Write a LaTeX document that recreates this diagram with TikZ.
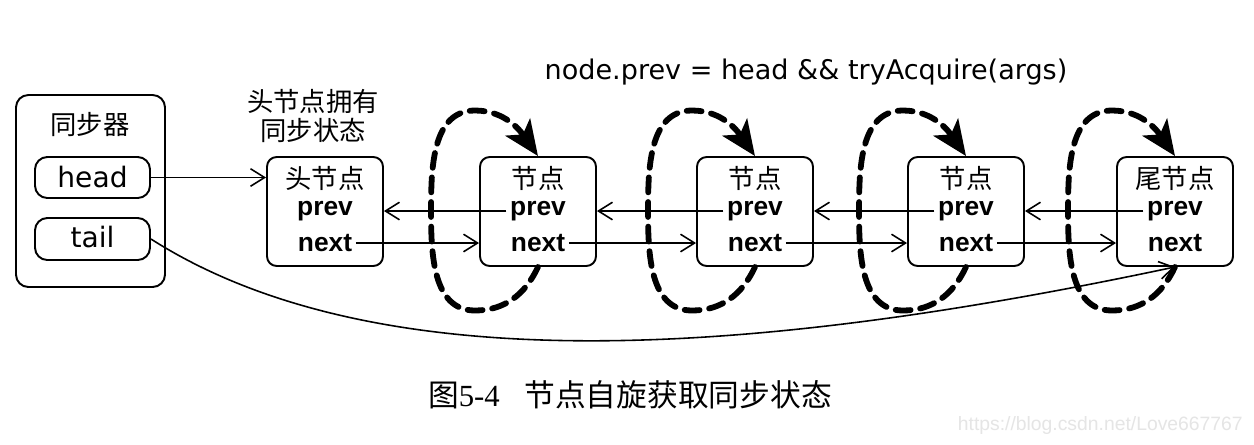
\documentclass[tikz,border=0pt]{standalone}
\usepackage{fontspec}
\setmainfont{Liberation Serif}
\newfontfamily\cjk{Noto Sans CJK SC}
\newfontfamily\dv{DejaVu Sans}
\newfontfamily\ls{Liberation Sans}
\usetikzlibrary{arrows.meta,calc}
\tikzset{
  box/.style={draw, line width=1.1pt, inner sep=0pt},
  nodebox/.style={box, rounded corners=5.5pt, minimum width=2.32cm, minimum height=2.18cm},
  cn/.style={font=\cjk\fontsize{15}{16}\selectfont, inner sep=0pt},
  lat/.style={font=\dv\fontsize{16}{18}\selectfont, inner sep=0pt},
  fld/.style={font=\ls\bfseries\fontsize{15}{16}\selectfont, inner sep=2pt},
  ptr/.style={line width=0.9pt, -{Straight Barb[length=8pt,width=10pt]}},
  spin/.style={line width=3.3pt, dash pattern=on 8.5pt off 5.5pt, line cap=round, -{Stealth[length=20pt,width=17pt,inset=5pt]}},
}
\begin{document}
\begin{tikzpicture}[x=0.02cm, y=-0.02cm]
\fill[white] (0,0) rectangle (1254,444);
\useasboundingbox (0,0) rectangle (1254,444);

% synchronizer
\node[box, rounded corners=7pt, minimum width=2.98cm, minimum height=3.84cm] (sync) at (90.5,191) {};
\node[cn] (syncl) at (90,125) {同步器};
\node[box, rounded corners=7pt, minimum width=2.3cm, minimum height=0.82cm] (headbox) at (92.5,177.5) {};
\node[lat] (headl) at (92.5,177) {head};
\node[box, rounded corners=7pt, minimum width=2.3cm, minimum height=0.84cm] (tailbox) at (92.5,239) {};
\node[lat] (taill) at (92.5,237) {tail};

\node[cn, align=center] (state) at (313,116) {头节点拥有\\同步状态};
\node[font=\dv\fontsize{15.4}{18}\selectfont, inner sep=0pt] (cond) at (806,72) {node.prev = head \&\& tryAcquire(args)};

% queue nodes
\foreach \i/\x/\lab in {1/325/头节点, 2/538/节点, 3/755/节点, 4/966/节点, 5/1175/尾节点} {
  \node[nodebox] (n\i) at (\x,211.5) {};
  \node[cn] (t\i) at (\x,178) {\lab};
  \node[fld] (p\i) at (\x,211) {prev};
  \node[fld] (x\i) at (\x,243) {next};
}

\draw[ptr] (headbox.east) -- (n1.west |- headbox.east);

\foreach \i/\j in {1/2, 2/3, 3/4, 4/5} {
  \draw[ptr] (x\i.east) -- (n\j.west |- x\i.east);
  \draw[ptr] (p\j.west) -- (n\i.east |- p\j.west);
}

\draw[ptr] (tailbox.east) .. controls (380,385) and (760,355) .. (n5.south);

\foreach \i in {2,...,5} {
  \draw[spin] (n\i.south) to[out=-115,in=0] ($(n\i.west)+(-4,99)$)
    to[out=180,in=-90] ($(n\i.west)+(-48,0)$)
    to[out=90,in=180] ($(n\i.west)+(-4,-101)$)
    to[out=0,in=125] (n\i.north);
}

\node[inner sep=0pt, font=\fontsize{17.5}{19}\selectfont] (cap) at (630,395) {{\cjk 图}5-4\hspace{0.8em}{\cjk 节点自旋获取同步状态}};
\node[inner sep=0pt, text=black!10, font=\ls\fontsize{11}{12}\selectfont, anchor=east] (wm) at (1243,425) {https://blog.csdn.net/Love667767};
\end{tikzpicture}
\end{document}
